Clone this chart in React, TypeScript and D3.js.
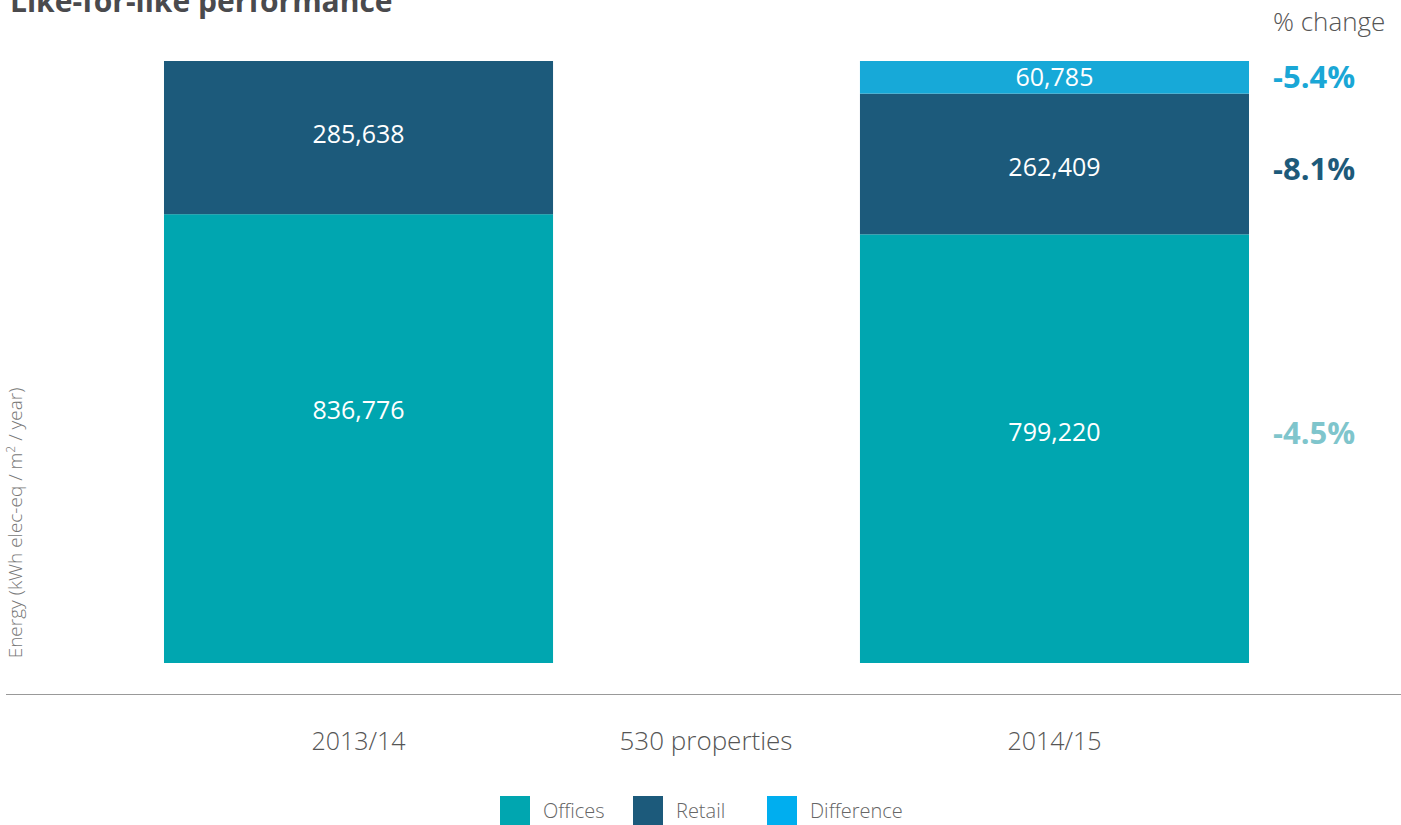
import React from "react";
import * as d3 from "d3";

const categories = ["2013/14", "2014/15"];
const offices = [836776, 799220];
const retail = [285638, 262409];
const difference = [0, 60785];
const changes = [
  { key: "difference", label: "-5.4%", color: "#1aa7d6" },
  { key: "retail", label: "-8.1%", color: "#1d5a7a" },
  { key: "offices", label: "-4.5%", color: "#7fc5cc" },
];
const legendItems = [
  { key: "offices", label: "Offices", color: "#00a6b0" },
  { key: "retail", label: "Retail", color: "#1c5a7b" },
  { key: "difference", label: "Difference", color: "#00aeef" },
];
const seriesKeys = ["offices", "retail", "difference"];
const colors: Record<string, string> = { offices: "#00a6b0", retail: "#1c5a7b", difference: "#17a9d8" };

const W = 1401, H = 825;
const FONT = "'Source Sans Pro', 'Open Sans', 'Noto Sans', sans-serif";

// label nudges (px) per series / bar
const labelNudge: Record<string, number[]> = { offices: [-29, -17], retail: [-4, 3], difference: [0, 0] };
const changeNudge: Record<string, number> = { offices: -15, retail: 6, difference: 1 };

export default function App() {
  const rows = categories.map((c, i) => ({ cat: c, offices: offices[i], retail: retail[i], difference: difference[i] }));
  const stack = d3.stack<any>().keys(seriesKeys)(rows);
  const y = d3.scaleLinear().domain([0, 1122414]).range([663, 61]);
  const x = d3.scaleBand().domain(categories).range([24.8, 1388.2]).paddingInner(0.441).paddingOuter(0.2);
  const fmt = d3.format(",");
  const last = rows.length - 1;
  const segMid = (k: string) => {
    const s = stack.find((d) => d.key === k)!;
    const seg = s[last];
    return (y(seg[0]) + y(seg[1])) / 2;
  };
  return (
    <svg width={W} height={H} style={{ position: "absolute", left: 0, top: 0, fontFamily: FONT }}>
      <text x={10} y={12} fontSize={30} fontWeight={700} fill="#4a4a4d">Like-for-like performance</text>
      <text x={1273} y={31} fontSize={26} fontWeight={300} fill="#555">% change</text>
      {stack.map((s) =>
        s.map((d, i) => {
          const v = d[1] - d[0];
          if (v <= 0) return null;
          const x0 = x(categories[i])!;
          return (
            <g key={s.key + i}>
              <rect x={x0} y={y(d[1])} width={x.bandwidth()} height={y(d[0]) - y(d[1])} fill={colors[s.key]} />
              <text x={x0 + x.bandwidth() / 2} y={(y(d[0]) + y(d[1])) / 2 + 9 + labelNudge[s.key][i]} textAnchor="middle" fontSize={25} fontWeight={400} fill="#fff">
                {fmt(v)}
              </text>
            </g>
          );
        })
      )}
      {changes.map((c) => (
        <text key={c.key} x={1273} y={segMid(c.key) + changeNudge[c.key] + 10} fontSize={31} fontWeight={700} fill={c.color}>
          {c.label}
        </text>
      ))}
      <line x1={6} x2={1401} y1={694.5} y2={694.5} stroke="#999" strokeWidth={1} />
      {categories.map((c) => (
        <text key={c} x={x(c)! + x.bandwidth() / 2} y={750} textAnchor="middle" fontSize={25} fontWeight={300} fill="#555">{c}</text>
      ))}
      <text x={706} y={750} textAnchor="middle" fontSize={26} fontWeight={300} fill="#555">530 properties</text>
      <text transform="translate(22,523) rotate(-90)" textAnchor="middle" fontSize={19} fontWeight={300} fill="#777">
        Energy (kWh elec-eq / m<tspan dy={-7} fontSize={12}>2</tspan><tspan dy={7}> / year)</tspan>
      </text>
      {legendItems.map((l, i) => {
        const lx = [500, 633, 767][i];
        return (
          <g key={l.key}>
            <rect x={lx} y={796} width={30} height={30} fill={l.color} />
            <text x={lx + 43} y={818} fontSize={20} fontWeight={300} fill="#666">{l.label}</text>
          </g>
        );
      })}
    </svg>
  );
}
